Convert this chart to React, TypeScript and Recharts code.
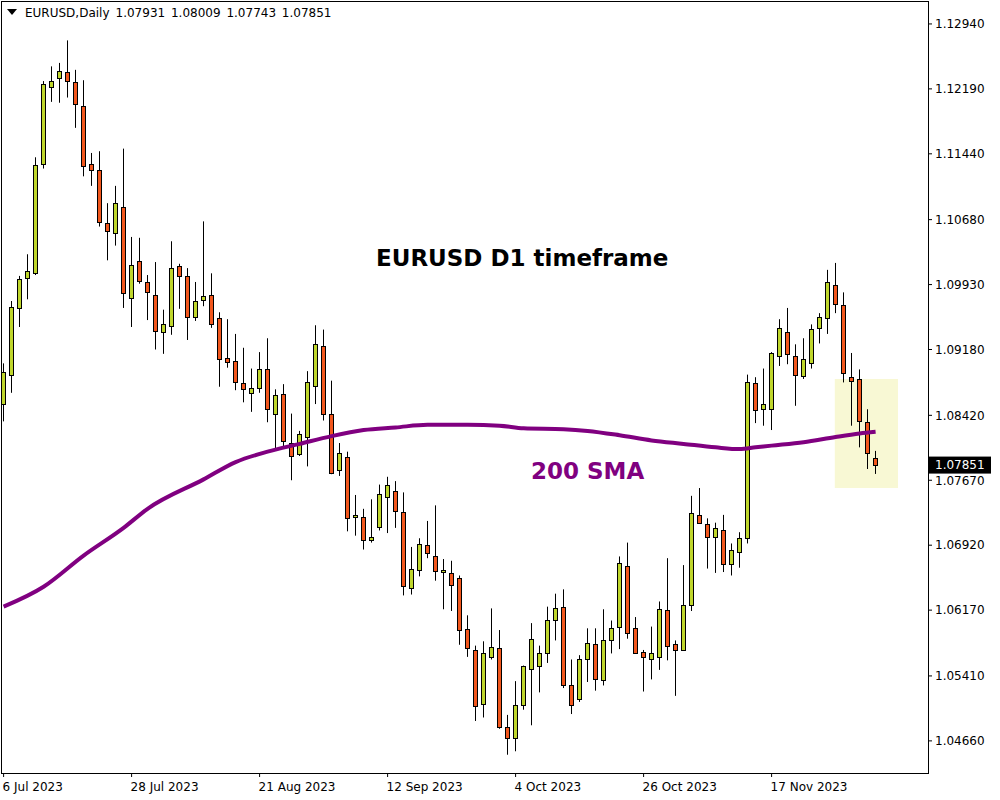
import { ComposedChart, Bar, Line, XAxis, YAxis, ReferenceArea, ReferenceLine } from "recharts";

// EURUSD daily candles, 6 Jul 2023 .. 6 Dec 2023
const opens = [
  1.0855, 1.0889, 1.0966, 1.1001, 1.1006, 1.1132, 1.1221, 1.1232, 1.1238, 1.1227,
  1.1199, 1.1132, 1.1125, 1.1064, 1.1053, 1.1083, 1.0977, 1.1020, 1.0996, 1.0981,
  1.0938, 1.0945, 1.1014, 1.1003, 1.0955, 1.0975, 1.0981, 1.0954, 1.0908, 1.0905,
  1.0879, 1.0868, 1.0873, 1.0895, 1.0843, 1.0867, 1.0810, 1.0797, 1.0817, 1.0876,
  1.0922, 1.0843, 1.0779, 1.0794, 1.0724, 1.0724, 1.0698, 1.0713, 1.0748, 1.0755,
  1.0730, 1.0643, 1.0663, 1.0692, 1.0679, 1.0661, 1.0660, 1.0654, 1.0595, 1.0571,
  1.0509, 1.0563, 1.0573, 1.0482, 1.0469, 1.0508, 1.0549, 1.0553, 1.0568, 1.0606,
  1.0621, 1.0531, 1.0514, 1.0560, 1.0578, 1.0536, 1.0583, 1.0598, 1.0668, 1.0596,
  1.0569, 1.0560, 1.0563, 1.0617, 1.0578, 1.0571, 1.0623, 1.0727, 1.0716, 1.0701,
  1.0709, 1.0670, 1.0684, 1.0700, 1.0879, 1.0849, 1.0849, 1.0911, 1.0938, 1.0910,
  1.0887, 1.0902, 1.0943, 1.0954, 1.0993, 1.0969, 1.0886, 1.0884, 1.0834, 1.07931,
];
const highs = [
  1.0902, 1.0974, 1.1003, 1.1028, 1.1140, 1.1228, 1.1245, 1.1249, 1.1275, 1.1241,
  1.1229, 1.1145, 1.1147, 1.1087, 1.1107, 1.1150, 1.1048, 1.1047, 1.1004, 1.1019,
  1.0964, 1.1043, 1.1017, 1.1012, 1.0996, 1.1066, 1.1006, 1.0961, 1.0953, 1.0936,
  1.0920, 1.0896, 1.0915, 1.0931, 1.0872, 1.0878, 1.0844, 1.0824, 1.0893, 1.0946,
  1.0941, 1.0882, 1.0810, 1.0800, 1.0750, 1.0734, 1.0745, 1.0762, 1.0771, 1.0766,
  1.0753, 1.0690, 1.0700, 1.0720, 1.0738, 1.0676, 1.0674, 1.0657, 1.0611, 1.0576,
  1.0581, 1.0619, 1.0594, 1.0496, 1.0535, 1.0553, 1.0602, 1.0576, 1.0621, 1.0636,
  1.0641, 1.0560, 1.0565, 1.0596, 1.0596, 1.0618, 1.0605, 1.0679, 1.0695, 1.0609,
  1.0571, 1.0598, 1.0627, 1.0677, 1.0582, 1.0669, 1.0749, 1.0758, 1.0723, 1.0718,
  1.0727, 1.0694, 1.0707, 1.0889, 1.0886, 1.0896, 1.0915, 1.0953, 1.0966, 1.0924,
  1.0931, 1.0947, 1.0960, 1.1010, 1.1018, 1.0984, 1.0914, 1.0895, 1.0849, 1.08009,
];
const lows = [
  1.0835, 1.0868, 1.0944, 1.0976, 1.1004, 1.1127, 1.1204, 1.1203, 1.1209, 1.1174,
  1.1118, 1.1107, 1.1060, 1.1021, 1.1038, 1.0966, 1.0944, 1.0994, 1.0952, 1.0918,
  1.0913, 1.0935, 1.0965, 1.0929, 1.0951, 1.0968, 1.0943, 1.0875, 1.0897, 1.0871,
  1.0857, 1.0846, 1.0868, 1.0834, 1.0803, 1.0805, 1.0767, 1.0795, 1.0783, 1.0855,
  1.0836, 1.0774, 1.0772, 1.0708, 1.0703, 1.0687, 1.0695, 1.0709, 1.0706, 1.0712,
  1.0634, 1.0635, 1.0656, 1.0677, 1.0651, 1.0618, 1.0616, 1.0577, 1.0563, 1.0489,
  1.0493, 1.0560, 1.0480, 1.0450, 1.0454, 1.0502, 1.0484, 1.0522, 1.0556, 1.0582,
  1.0527, 1.0497, 1.0511, 1.0534, 1.0524, 1.0530, 1.0567, 1.0572, 1.0584, 1.0567,
  1.0523, 1.0537, 1.0548, 1.0559, 1.0518, 1.0571, 1.0616, 1.0717, 1.0665, 1.0660,
  1.0661, 1.0657, 1.0666, 1.0694, 1.0833, 1.0830, 1.0825, 1.0899, 1.0901, 1.0853,
  1.0884, 1.0896, 1.0925, 1.0936, 1.0960, 1.0880, 1.0830, 1.0805, 1.0780, 1.07743,
];
const closes = [
  1.0892, 1.0967, 1.1000, 1.1009, 1.1131, 1.1225, 1.1228, 1.1240, 1.1228, 1.1201,
  1.1130, 1.1125, 1.1065, 1.1055, 1.1087, 1.0983, 1.1016, 1.0997, 1.0984, 1.0939,
  1.0948, 1.1012, 1.1003, 1.0956, 1.0974, 1.0980, 1.0948, 1.0907, 1.0903, 1.0880,
  1.0872, 1.0873, 1.0896, 1.0849, 1.0866, 1.0812, 1.0795, 1.0820, 1.0881, 1.0924,
  1.0843, 1.0775, 1.0798, 1.0723, 1.0727, 1.0698, 1.0701, 1.0751, 1.0761, 1.0731,
  1.0645, 1.0664, 1.0693, 1.0683, 1.0662, 1.0663, 1.0646, 1.0594, 1.0573, 1.0506,
  1.0568, 1.0574, 1.0482, 1.0469, 1.0507, 1.0553, 1.0584, 1.0568, 1.0606, 1.0620,
  1.0530, 1.0508, 1.0561, 1.0579, 1.0537, 1.0582, 1.0596, 1.0671, 1.0591, 1.0567,
  1.0563, 1.0567, 1.0618, 1.0576, 1.0571, 1.0623, 1.0729, 1.0718, 1.0701, 1.0712,
  1.0670, 1.0686, 1.0700, 1.0880, 1.0848, 1.0855, 1.0914, 1.0943, 1.0913, 1.0889,
  1.0907, 1.0942, 1.0955, 1.0996, 1.0970, 1.0891, 1.0882, 1.0836, 1.0799, 1.07851,
];

// 200 SMA, read at these candle positions
const smaIdx = [0, 5, 10, 15, 18, 25, 29, 33, 37, 41, 45, 49, 53, 58, 62, 65, 70, 73, 77, 81, 85, 89, 92, 94, 96, 100, 104, 107, 109];
const smaVal = [
  1.0621, 1.0644, 1.0680, 1.0712, 1.0734, 1.0768, 1.0788, 1.0800, 1.0809, 1.0818,
  1.0825, 1.0828, 1.0831, 1.0831, 1.0830, 1.0827, 1.0826, 1.0824, 1.0819, 1.0813,
  1.0809, 1.0805, 1.0803, 1.0805, 1.0807, 1.0811, 1.0817, 1.0821, 1.0823,
];

const dateTicks = [0, 16, 32, 48, 64, 80, 96];
const dateLabels = ["6 Jul 2023", "28 Jul 2023", "21 Aug 2023", "12 Sep 2023", "4 Oct 2023", "26 Oct 2023", "17 Nov 2023"];

const priceTicks = [1.0466, 1.0541, 1.0617, 1.0692, 1.0767, 1.0842, 1.0918, 1.0993, 1.1068, 1.1144, 1.1219, 1.1294];

const BULL = "#bfd62c";
const BEAR = "#f2571d";
const SMA = "#800080";
const FONT = "'DejaVu Sans', Verdana, sans-serif";

const data = opens.map((o, i) => {
  const k = smaIdx.indexOf(i);
  return {
    i,
    open: o,
    high: highs[i],
    low: lows[i],
    close: closes[i],
    range: [lows[i], highs[i]],
    sma: k >= 0 ? smaVal[k] : null,
  };
});

const last = data[data.length - 1];

const Candle = (props: any) => {
  const { x, y, width, height, payload } = props;
  if (!payload) return null;
  const { open, close, high, low } = payload;
  const top0 = height < 0 ? y + height : y;
  const h = Math.abs(height);
  const cx = Math.round(x + width / 2) + 0.5;
  const ppu = h / (high - low);
  const yOf = (v: number) => top0 + (high - v) * ppu;
  const bt = Math.round(yOf(Math.max(open, close))) + 0.5;
  const bb = Math.round(yOf(Math.min(open, close))) + 0.5;
  return (
    <g>
      <line x1={cx} x2={cx} y1={top0} y2={top0 + h} stroke="#000" strokeWidth={1} />
      <rect x={cx - 2} y={bt} width={4} height={Math.max(bb - bt, 1)} fill={close >= open ? BULL : BEAR} stroke="#000" strokeWidth={1} />
    </g>
  );
};

const DateTick = ({ x, y, payload }: any) => {
  const k = dateTicks.indexOf(payload.value);
  return (
    <text x={x - 1} y={y} dy="0.71em" textAnchor="start" fontSize={12} fontFamily={FONT} fill="#000">
      {k >= 0 ? dateLabels[k] : ""}
    </text>
  );
};

const PriceTag = ({ viewBox }: any) => {
  const { x, y, width } = viewBox;
  return (
    <g>
      <rect x={x + width + 1} y={y - 8} width={62} height={17} fill="#000" />
      <text x={x + width + 7} y={y} dy="0.355em" fontSize={12} fontFamily={FONT} fill="#fff">
        {last.close.toFixed(5)}
      </text>
    </g>
  );
};

export default function App() {
  return (
    <div style={{ position: "absolute", left: 0, top: 0, width: 1000, height: 800, background: "#fff", fontFamily: FONT }}>
      <ComposedChart width={1000} height={800} data={data} margin={{ top: 1, right: 0, left: 0, bottom: 0 }}>
        <XAxis
          dataKey="i"
          type="number"
          domain={[-0.45, 115.55]}
          ticks={dateTicks}
          interval={0}
          axisLine={false}
          tickLine={{ stroke: "#000" }}
          tickSize={4}
          tickMargin={5}
          height={27}
          tick={<DateTick />}
        />
        <YAxis
          orientation="right"
          type="number"
          domain={[1.04289, 1.13205]}
          ticks={priceTicks}
          interval={0}
          allowDataOverflow
          axisLine={false}
          tickLine={{ stroke: "#000" }}
          tickSize={4}
          tickMargin={3}
          width={72}
          tick={{ fontSize: 12, fontFamily: FONT, fill: "#000" }}
          tickFormatter={(v: number) => v.toFixed(5)}
        />
        <ReferenceArea x1={103.9} x2={111.8} y1={1.0758} y2={1.0884} fill="#f8f8d4" fillOpacity={1} stroke="none" />
        <Bar dataKey="range" barSize={5} shape={<Candle />} isAnimationActive={false} />
        <Line
          dataKey="sma"
          type="monotone"
          stroke={SMA}
          strokeWidth={4}
          dot={false}
          activeDot={false}
          connectNulls
          isAnimationActive={false}
        />
        <ReferenceLine y={last.close} stroke="none" label={<PriceTag />} />
      </ComposedChart>

      {/* chart frame */}
      <div style={{ position: "absolute", left: 1, top: 1, width: 928, height: 773, border: "1px solid #000", boxSizing: "border-box", pointerEvents: "none" }} />

      {/* header */}
      <svg style={{ position: "absolute", left: 7, top: 9 }} width={11} height={7}>
        <polygon points="0,0 10,0 5,6" fill="#000" />
      </svg>
      <div style={{ position: "absolute", left: 25, top: 7, fontSize: 12, lineHeight: "12px", whiteSpace: "pre", color: "#000", wordSpacing: 2 }}>
        EURUSD,Daily
        <span style={{ marginLeft: 6 }}>
          {[last.open, last.high, last.low, last.close].map((v) => v.toFixed(5)).join(" ")}
        </span>
      </div>

      <div style={{ position: "absolute", left: 376, top: 247, fontSize: 23, lineHeight: "23px", fontWeight: "bold", color: "#000", whiteSpace: "nowrap" }}>
        EURUSD D1 timeframe
      </div>
      <div style={{ position: "absolute", left: 531, top: 460, fontSize: 23, lineHeight: "23px", fontWeight: "bold", color: SMA, whiteSpace: "nowrap" }}>
        200 SMA
      </div>
    </div>
  );
}
